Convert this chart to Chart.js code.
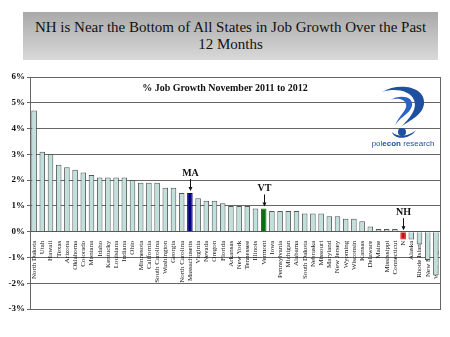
<!DOCTYPE html>
<html>
<head>
<meta charset="utf-8">
<script src="https://cdn.jsdelivr.net/npm/chart.js@4"></script>
<style>
    html, body { margin: 0; padding: 0; background: #fff; }
    #wrap { position: relative; width: 450px; height: 337px; overflow: hidden; }
    #slideTitle {
        position: absolute; left: 23px; top: 12px; width: 415px; height: 48px;
        background: linear-gradient(to bottom, #a9a9a9, #d9d9d9);
        font-family: "Liberation Serif", serif; font-size: 15px; line-height: 17px;
        text-align: center; color: #111; box-sizing: border-box; padding-top: 7px;
    }
    #chartTitle {
        position: absolute; left: 0; width: 450px; top: 82px; text-align: center;
        font-family: "Liberation Serif", serif; font-weight: bold; font-size: 10px; color: #111;
    }
    #logo { position: absolute; left: 368px; top: 80px; width: 70px; height: 70px; }
    #logoText {
        position: absolute; left: 368px; top: 139px; width: 70px; text-align: center;
        font-family: "Liberation Sans", sans-serif; font-size: 8px; color: #1f4f9f;
    }
    canvas { position: absolute; left: 0; top: 0; }
</style>
</head>
<body>
<div id="wrap">
    <div id="slideTitle">NH is Near the Bottom of All States in Job Growth Over the Past<br>12 Months</div>
    <canvas id="jobChart" width="450" height="337"></canvas>
    <div id="chartTitle">% Job Growth November 2011 to 2012</div>
    <svg id="logo" viewBox="0 0 70 70">
        <path d="M14 12 C30 2 58 6 56 24 C54 38 36 42 30 50 C40 40 50 30 46 20 C42 10 26 8 14 12 Z" fill="#1f4f9f"/>
        <path d="M22 20 C32 14 46 16 44 26 C42 34 30 38 27 46 C30 36 40 30 38 24 C36 18 28 18 22 20 Z" fill="#2a63c4"/>
        <circle cx="34" cy="52" r="4" fill="#1f4f9f"/>
        <path d="M24 52 C26 60 42 60 48 50 C42 56 30 58 24 52 Z" fill="#1f4f9f"/>
    </svg>
    <div id="logoText">pol<b>econ</b> research</div>
</div>
<script>
// Job growth by state, Nov 2011 to Nov 2012 (%)
const states = ['North Dakota', 'Utah', 'Hawaii', 'Texas', 'Arizona', 'Oklahoma', 'Colorado', 'Montana', 'Idaho', 'Kentucky',
    'Louisiana', 'Indiana', 'Ohio', 'Minnesota', 'California', 'South Carolina', 'Washington', 'Georgia', 'North Carolina', 'Massachusetts',
    'Virginia', 'Nevada', 'Oregon', 'Florida', 'Arkansas', 'New York', 'Tennessee', 'Illinois', 'Vermont', 'Iowa',
    'Pennsylvania', 'Michigan', 'Alabama', 'South Dakota', 'Nebraska', 'Missouri', 'Maryland', 'New Jersey', 'Wyoming', 'Wisconsin',
    'Kansas', 'Delaware', 'Maine', 'Mississippi', 'Connecticut', 'N', 'Alaska', 'Rhode Island', 'New Mexico', 'West Virginia'];

const growth = [4.7, 3.1, 3.0, 2.6, 2.5, 2.4, 2.3, 2.2, 2.1, 2.1,
    2.1, 2.1, 2.0, 1.9, 1.9, 1.9, 1.7, 1.7, 1.5, 1.5,
    1.3, 1.2, 1.2, 1.1, 1.0, 1.0, 1.0, 0.9, 0.9, 0.8,
    0.8, 0.8, 0.8, 0.7, 0.7, 0.7, 0.6, 0.6, 0.5, 0.5,
    0.4, 0.2, 0.1, 0.1, 0.1, -0.3, -0.3, -0.5, -1.1, -1.7];

const yTicks = [-3, -2, -1, 0, 1, 2, 3, 4, 5, 6];

// callouts: label text and state it points to
const calloutLabels = ['MA', 'VT', 'NH'];
const calloutStates = ['Massachusetts', 'Vermont', 'N'];

const highlight = { 'Massachusetts': '#000080', 'Vermont': '#0a6e14', 'N': '#d01010' };
const serif = '"Liberation Serif", "Times New Roman", serif';

// Plot frame + callout arrows
const extras = {
    id: 'extras',
    afterDatasetsDraw(chart) {
        const ctx = chart.ctx;
        const a = chart.chartArea;
        const meta = chart.getDatasetMeta(0);
        ctx.save();
        ctx.strokeStyle = '#666';
        ctx.lineWidth = 1;
        ctx.strokeRect(a.left + 0.5, a.top + 0.5, a.right - a.left, a.bottom - a.top);

        ctx.fillStyle = '#111';
        ctx.strokeStyle = '#111';
        ctx.font = 'bold 10px ' + serif;
        ctx.textAlign = 'center';
        calloutLabels.forEach((lbl, i) => {
            const idx = states.indexOf(calloutStates[i]);
            const bar = meta.data[idx];
            const top = Math.min(bar.y, bar.base);
            const x = Math.round(bar.x) + 0.5;
            ctx.fillText(lbl, x, top - 17);
            ctx.beginPath();
            ctx.moveTo(x, top - 14);
            ctx.lineTo(x, top - 3);
            ctx.stroke();
            ctx.beginPath();
            ctx.moveTo(x - 2, top - 6);
            ctx.lineTo(x, top - 2);
            ctx.lineTo(x + 2, top - 6);
            ctx.fill();
        });
        ctx.restore();
    }
};

const ctx = document.getElementById('jobChart').getContext('2d');
new Chart(ctx, {
    type: 'bar',
    data: {
        labels: states,
        datasets: [{
            data: growth,
            backgroundColor: states.map(s => highlight[s] || '#bfe0dc'),
            borderColor: states.map(s => highlight[s] ? highlight[s] : '#555'),
            borderWidth: 1,
            barPercentage: 0.68,
            categoryPercentage: 1
        }]
    },
    options: {
        responsive: false,
        animation: false,
        layout: { padding: { top: 77, left: 0, right: 10, bottom: 28 } },
        plugins: { legend: { display: false }, tooltip: { enabled: false } },
        scales: {
            x: {
                position: { y: 0 },
                z: 1,
                grid: { display: false },
                border: { color: '#555' },
                ticks: {
                    autoSkip: false,
                    maxRotation: 90,
                    minRotation: 90,
                    padding: 1,
                    color: '#111',
                    font: { family: serif, size: 7 }
                }
            },
            y: {
                min: yTicks[0],
                max: yTicks[yTicks.length - 1],
                afterBuildTicks: scale => { scale.ticks = yTicks.map(v => ({ value: v })); },
                afterFit: scale => { scale.width = 30; },
                grid: { color: '#666', lineWidth: 1, drawTicks: true, tickLength: 3 },
                border: { color: '#555' },
                ticks: {
                    color: '#111',
                    padding: 2,
                    font: { family: serif, size: 9, weight: 'bold' },
                    callback: v => v + '%'
                }
            }
        }
    },
    plugins: [extras]
});
</script>
</body>
</html>
